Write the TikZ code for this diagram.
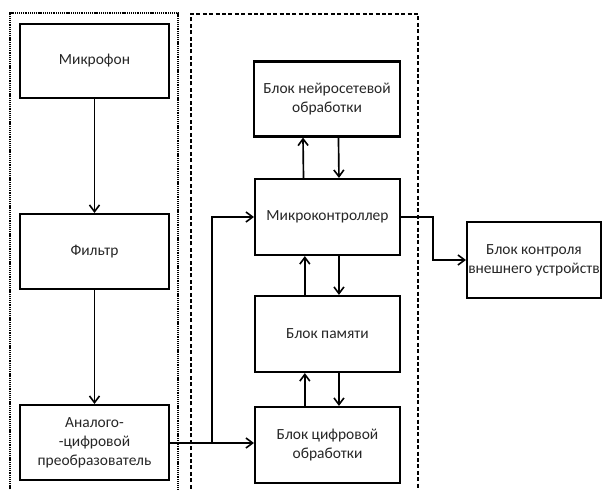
\documentclass[tikz,border=0pt]{standalone}
\usepackage{fontspec}
\setmainfont{Carlito}
\usetikzlibrary{arrows.meta,calc}
\begin{document}
\begin{tikzpicture}[x=0.75pt,y=-0.75pt,
  blk/.style={draw,line width=1.6pt,align=center,inner sep=0pt,text=black!85,font=\fontsize{11.6}{14.3}\selectfont},
  arr/.style={line width=1.25pt,-{Straight Barb[length=5pt,width=7.5pt,line width=1.2pt]}},
  plain/.style={line width=1pt}]
\useasboundingbox (0,0) rectangle (603,489);
% frames
\draw[line width=1pt,dash pattern=on 0.8pt off 0.6pt] (10,495) -- (10,13) -- (178,13) -- (178,495);
\draw[line width=1.3pt,dash pattern=on 3pt off 1.8pt] (191,495) -- (191,14) -- (418,14) -- (418,495);
% blocks
\node[blk,minimum width=111.75pt,minimum height=55.5pt] (mic) at (94.5,61) {Микрофон};
\node[blk,minimum width=111.75pt,minimum height=56.25pt] (filt) at (94.5,251.5) {Фильтр};
\node[blk,minimum width=111.75pt,minimum height=56.25pt] (adc) at (94.5,442.5) {Аналого-\\-цифровой\\преобразователь};
\node[blk,minimum width=109.5pt,minimum height=56.25pt] (neuro) at (327,99) {Блок нейросетевой\\обработки};
\node[blk,minimum width=108.75pt,minimum height=57pt] (mc) at (327.5,217) {Микроконтроллер};
\node[blk,minimum width=108.75pt,minimum height=57pt] (mem) at (327.5,334) {Блок памяти};
\node[blk,minimum width=108.75pt,minimum height=57pt] (dig) at (327.5,445) {Блок цифровой\\обработки};
\node[blk,minimum width=100.5pt,minimum height=57pt] (ext) at (534,260) {Блок контроля\\внешнего устройств};
% connectors
\draw[arr] (mic.south) -- (filt.north);
\draw[arr] (filt.south) -- (adc.north);
\coordinate (br) at (212,443);
\draw[arr] (adc.east |- br) -- (dig.west |- br);
\draw[arr] (br) |- (mc.west);
\draw[arr] ([xshift=-18pt]mc.north) -- ([xshift=-18pt]neuro.south);
\draw[arr] ([xshift=8.6pt]neuro.south) -- ([xshift=8.6pt]mc.north);
\draw[arr] ([xshift=-17pt]mem.north) -- ([xshift=-17pt]mc.south);
\draw[arr] ([xshift=8.6pt]mc.south) -- ([xshift=8.6pt]mem.north);
\draw[arr] ([xshift=-17pt]dig.north) -- ([xshift=-17pt]mem.south);
\draw[arr] ([xshift=8.6pt]mem.south) -- ([xshift=8.6pt]dig.north);
\coordinate (turn) at (433,217);
\draw[arr] (mc.east) -- (turn) |- (ext.west);
\end{tikzpicture}
\end{document}
